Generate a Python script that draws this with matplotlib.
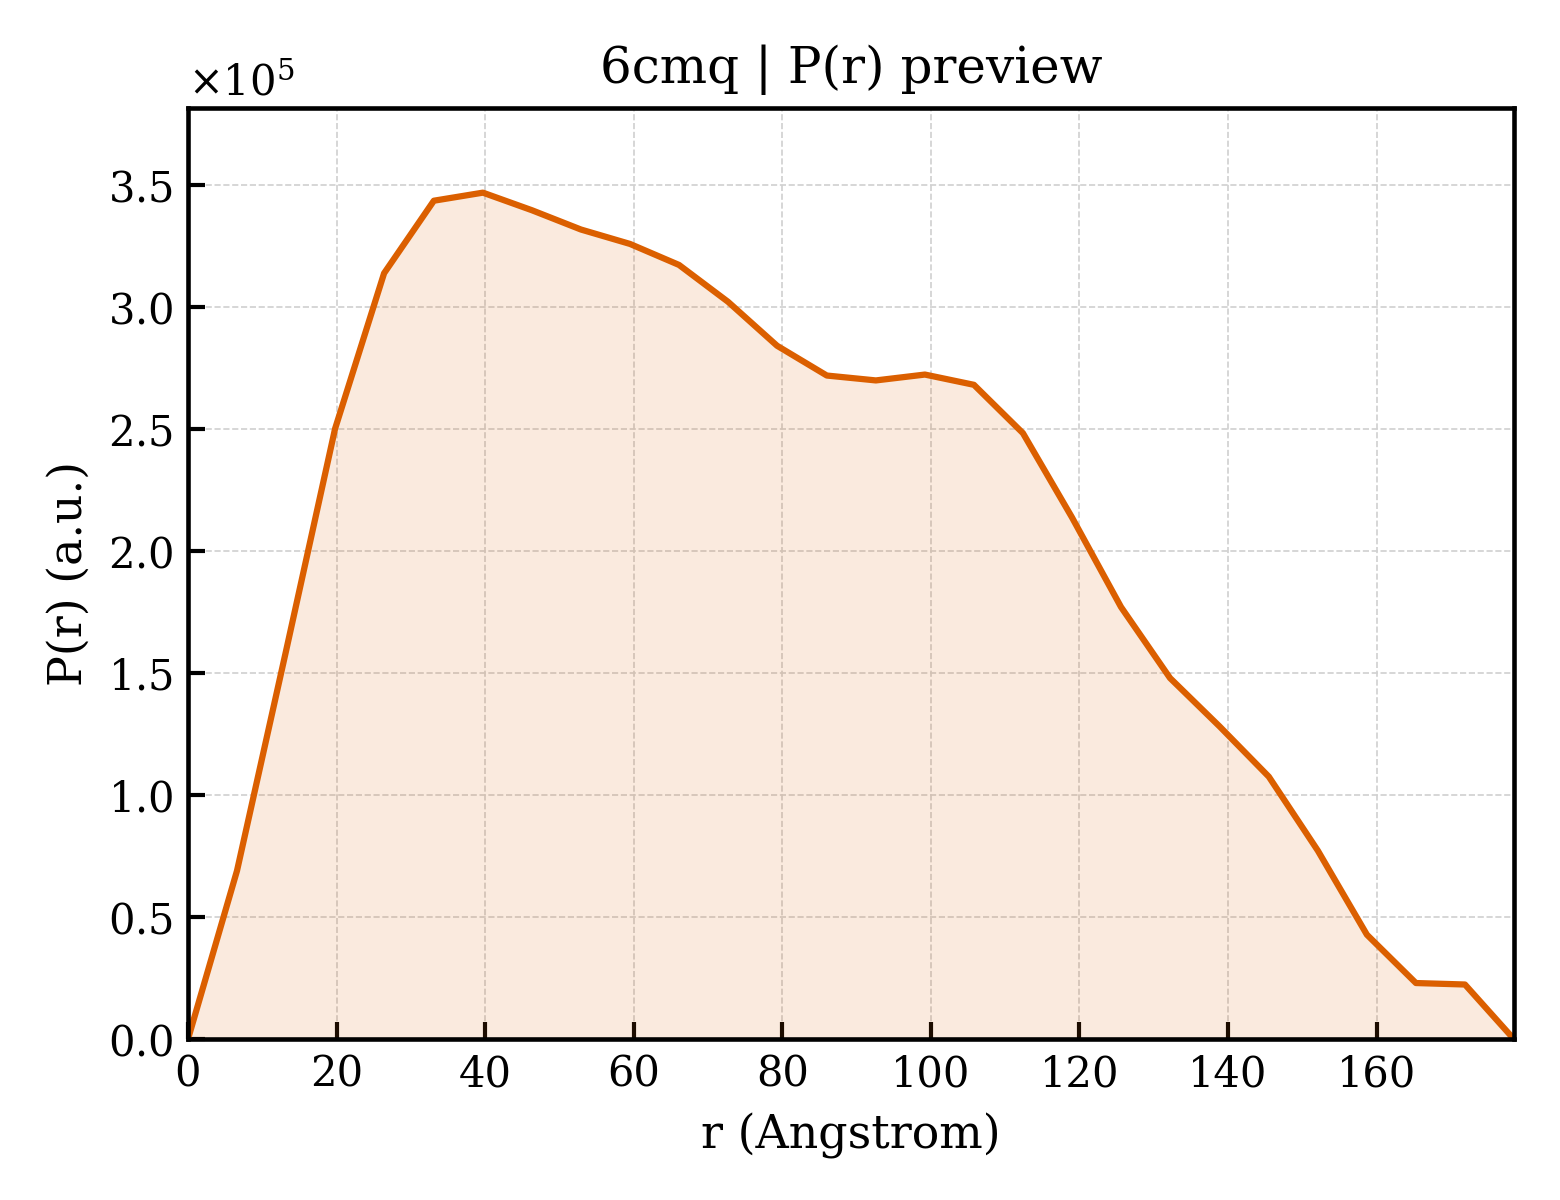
import matplotlib
matplotlib.use("Agg")
import matplotlib.pyplot as plt
from matplotlib.ticker import ScalarFormatter

plt.rcParams["font.family"] = "DejaVu Serif"
plt.rcParams["mathtext.fontset"] = "dejavuserif"

# P(r) curve
r = [0.0, 6.6, 13.2, 19.8, 26.4, 33.1, 39.7, 46.3, 52.9, 59.5, 66.1, 72.7,
     79.3, 86.0, 92.6, 99.2, 105.8, 112.4, 119.0, 125.6, 132.2, 138.9,
     145.5, 152.1, 158.7, 165.3, 171.9, 178.5]
pr = [0.0, 0.69, 1.59, 2.50, 3.137, 3.434, 3.467, 3.395, 3.316, 3.257,
      3.171, 3.02, 2.84, 2.718, 2.698, 2.722, 2.68, 2.482, 2.137, 1.77,
      1.479, 1.28, 1.075, 0.772, 0.428, 0.23, 0.224, 0.0]
pr = [v * 1e5 for v in pr]

COL = "#db5f00"

fig, ax = plt.subplots(figsize=(5.2, 4.0), dpi=300)
fig.subplots_adjust(left=0.1205, right=0.9705, top=0.91, bottom=0.134)

ax.fill_between(r, pr, 0, color=COL, alpha=0.13, lw=0)
ax.plot(r, pr, color=COL, lw=1.5)

ax.set_xlim(0, max(r))
ax.set_ylim(0, 1.1 * max(pr))

fmt = ScalarFormatter(useMathText=True)
fmt.set_powerlimits((0, 0))
ax.yaxis.set_major_formatter(fmt)

ax.grid(True, ls="--", lw=0.4, color="#d0d0d0")
ax.set_axisbelow(True)
ax.tick_params(direction="in", length=4, width=1.0, labelsize=10)
for s in ax.spines.values():
    s.set_linewidth(1.1)

ax.set_title("6cmq | P(r) preview", fontsize=12)
ax.set_xlabel("r (Angstrom)", fontsize=11)
ax.set_ylabel("P(r) (a.u.)", fontsize=11)

fig.savefig("out.png", dpi=300)
